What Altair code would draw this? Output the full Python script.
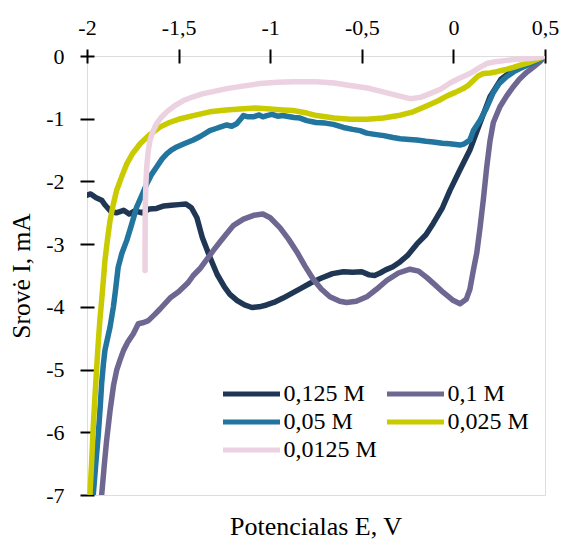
import altair as alt
import pandas as pd

# legend shows entries column by column, so this order gives the reference's row layout
series_names = ["0,125 M", "0,05 M", "0,0125 M", "0,1 M", "0,025 M"]
series_colors = ["#1F3654", "#21759E", "#ECD1E1", "#6E6791", "#CACA00"]

navy_x = [-2.0, -1.98, -1.95, -1.92, -1.90, -1.87, -1.84, -1.80, -1.77, -1.74, -1.70, -1.66, -1.62,
          -1.58, -1.54, -1.50, -1.46, -1.43, -1.40, -1.37, -1.33, -1.29, -1.25, -1.22, -1.18, -1.14,
          -1.10, -1.06, -1.02, -0.98, -0.93, -0.88, -0.83, -0.78, -0.72, -0.66, -0.60, -0.55, -0.50,
          -0.46, -0.43, -0.40, -0.37, -0.33, -0.29, -0.25, -0.20, -0.15, -0.11, -0.06, -0.02, 0.03,
          0.09, 0.145, 0.20, 0.26, 0.31, 0.36, 0.42, 0.47, 0.5]
navy_y = [-2.22, -2.20, -2.26, -2.30, -2.38, -2.48, -2.50, -2.46, -2.52, -2.47, -2.50, -2.44, -2.43,
          -2.39, -2.38, -2.37, -2.36, -2.42, -2.58, -2.90, -3.20, -3.48, -3.68, -3.80, -3.90, -3.97,
          -4.01, -4.00, -3.97, -3.93, -3.86, -3.78, -3.70, -3.62, -3.54, -3.47, -3.44, -3.45, -3.44,
          -3.49, -3.50, -3.46, -3.41, -3.36, -3.28, -3.18, -3.00, -2.85, -2.67, -2.42, -2.15, -1.85,
          -1.50, -1.07, -0.65, -0.37, -0.26, -0.19, -0.11, -0.04, 0.0]

purple_x = [-1.92, -1.905, -1.893, -1.874, -1.855, -1.838, -1.82, -1.80, -1.775, -1.747, -1.72, -1.69,
            -1.665, -1.63, -1.60, -1.547, -1.50, -1.45, -1.42, -1.38, -1.34, -1.31, -1.27, -1.237,
            -1.20, -1.146, -1.09, -1.04, -1.00, -0.946, -0.90, -0.855, -0.81, -0.765, -0.72, -0.674,
            -0.62, -0.583, -0.53, -0.473, -0.42, -0.364, -0.30, -0.237, -0.19, -0.146, -0.10, -0.055,
            0.0, 0.036, 0.07, 0.09, 0.11, 0.127, 0.145, 0.163, 0.182, 0.20, 0.218, 0.254, 0.29, 0.327,
            0.36, 0.40, 0.44, 0.473, 0.5]
purple_y = [-7.0, -6.5, -6.13, -5.65, -5.25, -5.01, -4.85, -4.69, -4.55, -4.43, -4.27, -4.25,
            -4.22, -4.12, -4.03, -3.86, -3.76, -3.62, -3.50, -3.38, -3.22, -3.10, -2.95, -2.83,
            -2.70, -2.60, -2.54, -2.52, -2.58, -2.74, -2.92, -3.12, -3.35, -3.56, -3.72, -3.84,
            -3.91, -3.93, -3.91, -3.84, -3.72, -3.58, -3.46, -3.40, -3.43, -3.53, -3.65, -3.77,
            -3.90, -3.95, -3.88, -3.72, -3.40, -3.15, -2.75, -2.30, -1.77, -1.35, -1.06, -0.81, -0.64, -0.49,
            -0.37, -0.26, -0.17, -0.09, 0.0]

teal_x = [-1.966, -1.952, -1.938, -1.928, -1.92, -1.91, -1.902, -1.884, -1.874, -1.856, -1.845, -1.83,
          -1.81, -1.783, -1.76, -1.729, -1.70, -1.674, -1.65, -1.62, -1.59, -1.565, -1.54, -1.51,
          -1.47, -1.42, -1.38, -1.33, -1.30, -1.27, -1.237, -1.21, -1.183, -1.16, -1.146, -1.12,
          -1.092, -1.06, -1.04, -1.019, -0.99, -0.96, -0.93, -0.91, -0.87, -0.837, -0.80, -0.75,
          -0.70, -0.655, -0.60, -0.55, -0.51, -0.473, -0.43, -0.38, -0.33, -0.29, -0.24, -0.20,
          -0.15, -0.11, -0.06, -0.02, 0.036, 0.06, 0.09, 0.109, 0.145, 0.182, 0.218, 0.25, 0.29,
          0.33, 0.363, 0.40, 0.436, 0.47, 0.5]
teal_y = [-7.0, -6.5, -6.02, -5.6, -5.22, -4.9, -4.69, -4.45, -4.32, -4.0, -3.75, -3.37,
          -3.15, -2.94, -2.72, -2.41, -2.22, -2.04, -1.90, -1.77, -1.64, -1.56, -1.50, -1.45,
          -1.40, -1.34, -1.28, -1.19, -1.16, -1.13, -1.10, -1.12, -1.08, -1.00, -0.95, -0.97,
          -0.97, -0.94, -0.97, -0.95, -0.93, -0.96, -0.95, -0.96, -0.98, -0.99, -1.03, -1.06,
          -1.07, -1.09, -1.14, -1.17, -1.19, -1.23, -1.25, -1.27, -1.30, -1.32, -1.33, -1.34,
          -1.36, -1.37, -1.39, -1.40, -1.42, -1.40, -1.34, -1.19, -1.03, -0.82, -0.58, -0.44, -0.33,
          -0.25, -0.20, -0.15, -0.11, -0.06, 0.0]

yellow_x = [-1.984, -1.975, -1.966, -1.956, -1.947, -1.938, -1.93, -1.92, -1.91, -1.902, -1.888,
            -1.874, -1.856, -1.838, -1.81, -1.783, -1.75, -1.71, -1.66, -1.60, -1.55, -1.49, -1.42,
            -1.33, -1.24, -1.146, -1.08, -1.019, -0.93, -0.874, -0.80, -0.746, -0.65, -0.564, -0.47,
            -0.383, -0.30, -0.22, -0.15, -0.08, -0.037, 0.01, 0.054, 0.08, 0.109, 0.135, 0.163, 0.20,
            0.236, 0.28, 0.327, 0.37, 0.418, 0.46, 0.5]
yellow_y = [-7.0, -6.5, -5.92, -5.4, -4.96, -4.55, -4.22, -3.90, -3.55, -3.26, -2.92,
            -2.62, -2.36, -2.14, -1.92, -1.72, -1.55, -1.40, -1.26, -1.13, -1.06, -1.00, -0.95,
            -0.89, -0.86, -0.84, -0.83, -0.84, -0.86, -0.87, -0.91, -0.95, -0.99, -1.01, -1.01,
            -0.99, -0.95, -0.89, -0.80, -0.71, -0.64, -0.58, -0.52, -0.47, -0.39, -0.32, -0.28, -0.27,
            -0.25, -0.22, -0.18, -0.14, -0.10, -0.05, 0.0]

pink_x = [-1.683, -1.683, -1.682, -1.678, -1.674, -1.666, -1.656, -1.64, -1.62, -1.595, -1.565,
          -1.52, -1.474, -1.42, -1.365, -1.30, -1.237, -1.15, -1.056, -0.96, -0.874, -0.80, -0.746,
          -0.65, -0.564, -0.47, -0.40, -0.32, -0.237, -0.18, -0.128, -0.07, -0.018, 0.03, 0.09,
          0.14, 0.182, 0.23, 0.29, 0.35, 0.418, 0.47, 0.5]
pink_y = [-3.42, -3.0, -2.41, -2.0, -1.77, -1.52, -1.34, -1.20, -1.08, -0.98, -0.89,
          -0.79, -0.71, -0.65, -0.60, -0.56, -0.52, -0.48, -0.44, -0.42, -0.41, -0.41, -0.41,
          -0.43, -0.47, -0.51, -0.56, -0.62, -0.68, -0.66, -0.60, -0.53, -0.43, -0.36, -0.28,
          -0.19, -0.12, -0.09, -0.07, -0.05, -0.04, -0.02, 0.0]

x_ticks = [-2, -1.5, -1, -0.5, 0, 0.5]
y_ticks = [0, -1, -2, -3, -4, -5, -6, -7]

data_names = ["0,125 M", "0,1 M", "0,05 M", "0,025 M", "0,0125 M"]
all_x = [navy_x, purple_x, teal_x, yellow_x, pink_x]
all_y = [navy_y, purple_y, teal_y, yellow_y, pink_y]
rows = []
for name, xs, ys in zip(data_names, all_x, all_y):
    for i, (xv, yv) in enumerate(zip(xs, ys)):
        rows.append({"series": name, "E": xv, "I": yv, "i": i})
df = pd.DataFrame(rows)

FONT = "Liberation Serif"

chart = alt.Chart(df).mark_line(strokeWidth=5.5, strokeCap="round", strokeJoin="round", clip=True).encode(
    x=alt.X("E:Q", scale=alt.Scale(domain=[-2, 0.5], nice=False, zero=False),
            axis=alt.Axis(orient="top", values=x_ticks, title=None, domain=False, grid=False,
                          tickSize=14, offset=-7, tickColor="black", tickWidth=2,
                          labelExpr="replace(toString(datum.value), '.', ',')",
                          labelFont=FONT, labelFontSize=22, labelColor="black",
                          labelPadding=10, labelFlush=False)),
    y=alt.Y("I:Q", scale=alt.Scale(domain=[-7, 0], nice=False, zero=False),
            axis=alt.Axis(orient="left", values=y_ticks, title="Srovė I, mA", domain=False, grid=False,
                          tickSize=14, offset=-7, tickColor="black", tickWidth=2,
                          labelExpr="toString(datum.value)",
                          labelFont=FONT, labelFontSize=22, labelColor="black", labelPadding=16,
                          titleFont=FONT, titleFontSize=25.5, titleFontWeight="normal",
                          titleColor="black", titlePadding=11)),
    color=alt.Color("series:N", scale=alt.Scale(domain=series_names, range=series_colors),
                    legend=alt.Legend(title=None, orient="none", legendX=136, legendY=326,
                                      columns=2, columnPadding=0, rowPadding=4, padding=0,
                                      symbolType="M-3,0H3", symbolSize=361, symbolStrokeWidth=5,
                                      symbolOffset=16.5, labelOffset=20,
                                      labelFont=FONT, labelFontSize=24, labelColor="black")),
    order=alt.Order("i:Q"),
).properties(
    width=458, height=439,
    title=alt.TitleParams("Potencialas E, V", orient="bottom", anchor="middle", frame="group",
                          offset=8, font=FONT, fontSize=26, fontWeight="normal", color="black"),
    autosize=alt.AutoSizeParams(type="none"),
    padding={"left": 87, "top": 56, "right": 16, "bottom": 44},
).configure_view(stroke="black", strokeWidth=2).configure(background="white")

chart.save("out.html", embed_options={"renderer": "svg", "actions": False})
